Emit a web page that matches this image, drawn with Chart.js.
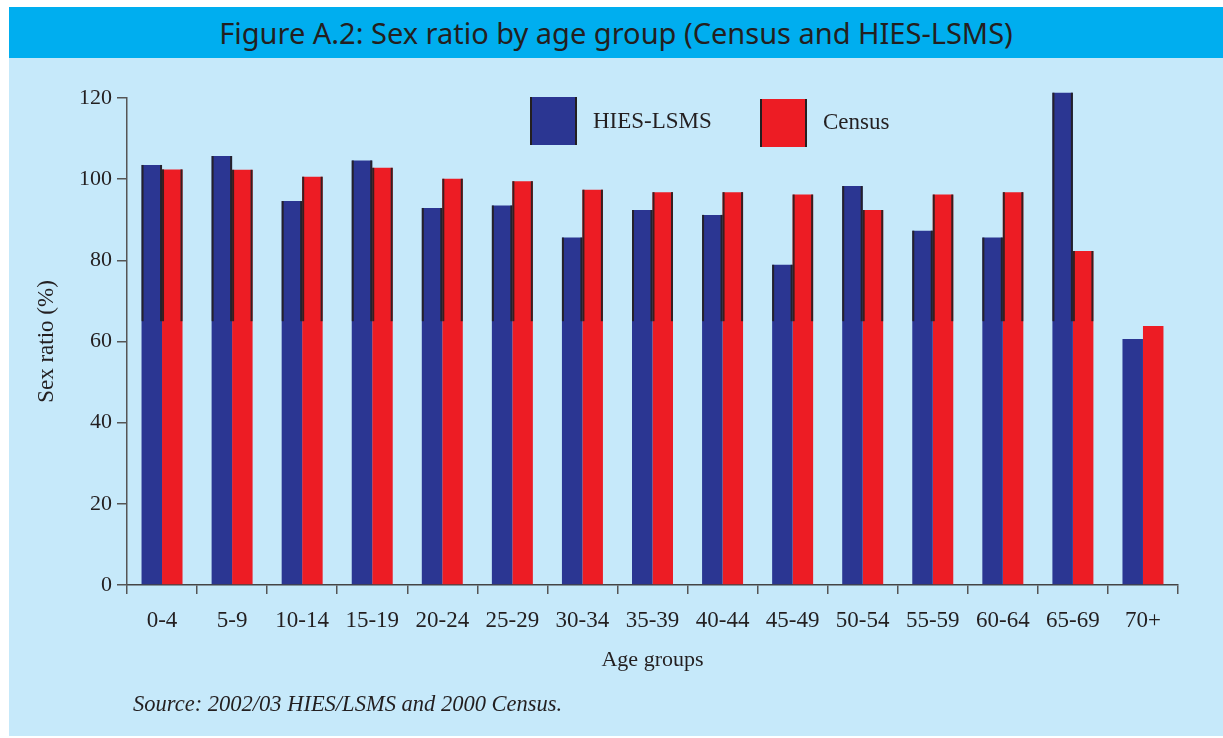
<!DOCTYPE html>
<html>
<head>
<meta charset="utf-8">
<script src="https://cdn.jsdelivr.net/npm/chart.js@4.4.0/dist/chart.umd.min.js"></script>
<style>
  body { margin: 0; width: 1223px; height: 738px; position: relative; overflow: hidden; background: #fff; color: #231F20; font-family: "Liberation Serif", serif; }
  #titleBar { position: absolute; left: 9px; top: 7px; width: 1214px; height: 51px; background: #00AEEF; text-align: center; line-height: 51px; font-family: "Noto Sans", sans-serif; font-size: 29px; color: #231F20; }
  #panel { position: absolute; left: 9px; top: 58px; width: 1214px; height: 678px; background: #C6E9FA; }
  #chart { position: absolute; left: 0; top: 0; }
  .box { position: absolute; width: 43px; height: 48px; border-left: 2px solid #231F20; border-right: 2px solid #231F20; }
  .lbl { position: absolute; font-size: 23px; line-height: 26px; }
  #source { position: absolute; left: 133px; top: 691px; font-size: 22.5px; font-style: italic; }
</style>
</head>
<body>
<div id="titleBar">Figure A.2: Sex ratio by age group (Census and HIES-LSMS)</div>
<div id="panel"></div>
<canvas id="chart" width="1223" height="738"></canvas>
<div class="box" style="left:530px; top:97px; background:#2B3692;"></div>
<div class="lbl" style="left:593px; top:108px;">HIES-LSMS</div>
<div class="box" style="left:760px; top:99px; background:#ED1C24;"></div>
<div class="lbl" style="left:823px; top:109px;">Census</div>
<div id="source">Source: 2002/03 HIES/LSMS and 2000 Census.</div>
<script>
const ageGroups = ["0-4", "5-9", "10-14", "15-19", "20-24", "25-29", "30-34", "35-39",
  "40-44", "45-49", "50-54", "55-59", "60-64", "65-69", "70+"];
const hiesLsms = [103.5, 105.7, 94.6, 104.6, 92.9, 93.5, 85.6, 92.4, 91.2, 78.9, 98.3, 87.3, 85.6, 121.3, 60.6];
const census = [102.4, 102.3, 100.6, 102.8, 100.1, 99.5, 97.4, 96.8, 96.8, 96.2, 92.4, 96.2, 96.8, 82.3, 63.8];
const yMin = 0;
const yMax = 120;
const yStep = 20;

// dark edges on the upper part of the bars, as in the printed figure
const edgeLines = {
  id: "edgeLines",
  afterDatasetsDraw(chart) {
    const ctx = chart.ctx;
    const cut = chart.scales.y.getPixelForValue(65);
    ctx.save();
    ctx.fillStyle = "rgba(35,31,32,0.9)";
    chart.data.datasets.forEach((ds, i) => {
      chart.getDatasetMeta(i).data.forEach(bar => {
        const { x, y, width } = bar.getProps(["x", "y", "width"], true);
        if (y >= cut) return;
        ctx.fillRect(x - width / 2, y, 2, cut - y);
        ctx.fillRect(x + width / 2 - 2, y, 2, cut - y);
      });
    });
    ctx.restore();
  }
};

const serif = "'Liberation Serif', 'Times New Roman', serif";
const ink = "#231F20";

new Chart(document.getElementById("chart"), {
  type: "bar",
  data: {
    labels: ageGroups,
    datasets: [
      { label: "HIES-LSMS", data: hiesLsms, backgroundColor: "#2B3692", clip: false },
      { label: "Census", data: census, backgroundColor: "#ED1C24", clip: false }
    ]
  },
  options: {
    responsive: false,
    animation: false,
    categoryPercentage: 0.585,
    barPercentage: 1.0,
    layout: { padding: { top: 98, right: 45, left: 0, bottom: 0 } },
    plugins: { legend: { display: false }, tooltip: { enabled: false } },
    scales: {
      x: {
        grid: { display: true, drawOnChartArea: false, offset: true, tickLength: 9, color: "#555", lineWidth: 1.5 },
        border: { display: true, color: "#444", width: 1.5 },
        ticks: { color: ink, font: { family: serif, size: 23 }, padding: 13, maxRotation: 0, autoSkip: false },
        title: { display: true, text: "Age groups", color: ink, font: { family: serif, size: 22 }, padding: { top: 0, bottom: 65 } },
        afterFit: s => { s.height = 153; }
      },
      y: {
        min: yMin,
        max: yMax,
        grid: { display: true, drawOnChartArea: false, tickLength: 10, color: "#555", lineWidth: 1.5 },
        border: { display: true, color: "#555", width: 1.5 },
        ticks: { stepSize: yStep, color: ink, font: { family: serif, size: 22 }, padding: 5 },
        title: { display: true, text: "Sex ratio (%)", color: ink, font: { family: serif, size: 23 }, padding: { top: 33, bottom: 0 } },
        afterFit: s => { s.width = 127; }
      }
    }
  },
  plugins: [edgeLines]
});
</script>
</body>
</html>
